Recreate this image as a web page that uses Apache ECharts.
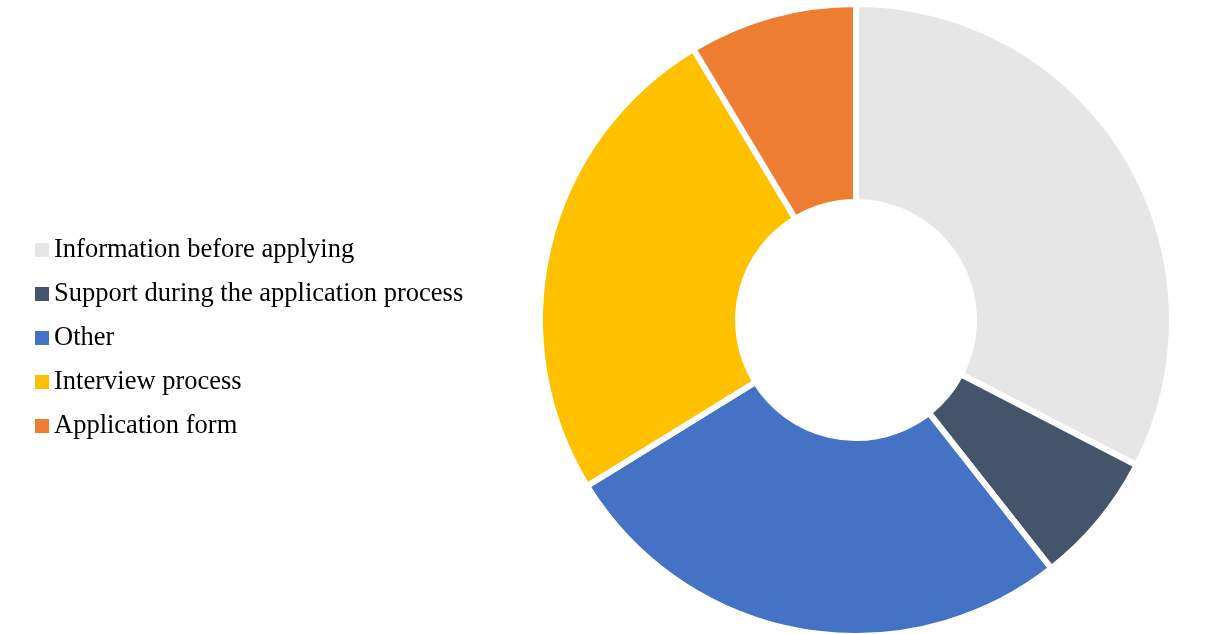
<!DOCTYPE html>
<html>
<head>
<meta charset="utf-8">
<script src="https://cdn.jsdelivr.net/npm/echarts@6/dist/echarts.min.js"></script>
<style>
  html, body { margin: 0; padding: 0; background: #ffffff; }
  #chart { width: 1211px; height: 634px; }
</style>
</head>
<body>
<div id="chart"></div>
<script>
// Areas of the application experience named by respondents (share, %)
const categories = [
  'Information before applying',
  'Support during the application process',
  'Other',
  'Interview process',
  'Application form'
];
const shares = [32.6, 6.8, 26.8, 25.2, 8.6];
const colors = ['#E7E6E6', '#44546A', '#4472C4', '#FFC000', '#ED7D31'];

const chart = echarts.init(document.getElementById('chart'), null, { renderer: 'canvas' });

const fontFamily = "'Times New Roman', 'Liberation Serif', serif";

chart.setOption({
  backgroundColor: '#ffffff',
  animation: false,
  color: colors,
  legend: {
    orient: 'vertical',
    left: 35,
    top: 235,
    padding: 0,
    icon: 'rect',
    itemWidth: 14,
    itemHeight: 14,
    itemGap: 14,
    itemStyle: { borderWidth: 0 },
    data: categories,
    textStyle: {
      fontFamily: fontFamily,
      fontSize: 26.5,
      lineHeight: 30,
      color: '#000000'
    }
  },
  series: [{
    type: 'pie',
    center: [856, 320],
    radius: [118, 316],
    startAngle: 90,
    clockwise: true,
    avoidLabelOverlap: false,
    label: { show: false },
    labelLine: { show: false },
    emphasis: { disabled: true },
    itemStyle: {
      borderColor: '#ffffff',
      borderWidth: 6
    },
    data: categories.map((name, i) => ({ name: name, value: shares[i] }))
  }]
});
</script>
</body>
</html>
